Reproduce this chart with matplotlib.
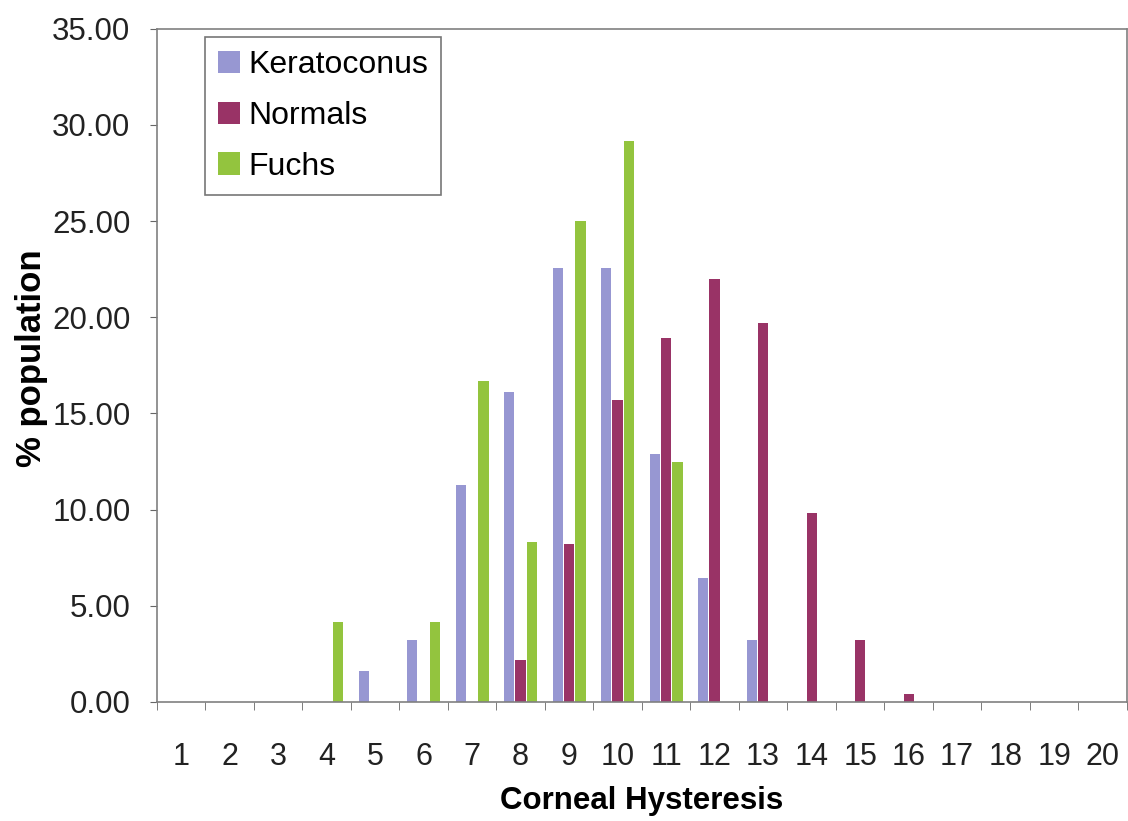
import numpy as np
import matplotlib.pyplot as plt
from matplotlib.ticker import FormatStrFormatter, MultipleLocator

plt.rcParams['font.family'] = ['Liberation Sans', 'DejaVu Sans']

# Corneal hysteresis bins and % population per group
categories = list(range(1, 21))
keratoconus = [0, 0, 0, 0, 1.61, 3.23, 11.29, 16.13, 22.58, 22.58,
               12.90, 6.45, 3.23, 0, 0, 0, 0, 0, 0, 0]
normals = [0, 0, 0, 0, 0, 0, 0, 2.2, 8.2, 15.7,
           18.9, 22.0, 19.7, 9.8, 3.2, 0.4, 0, 0, 0, 0]
fuchs = [0, 0, 0, 4.17, 0, 4.17, 16.67, 8.33, 25.0, 29.17,
         12.5, 0, 0, 0, 0, 0, 0, 0, 0, 0]

series = [('Keratoconus', keratoconus, '#9797d2'),
          ('Normals', normals, '#993366'),
          ('Fuchs', fuchs, '#93c43e')]

fig = plt.figure(figsize=(11.28, 8.21), dpi=100)
ax = fig.add_axes([0.139, 0.145, 0.86, 0.82])

x = np.array(categories)
width = 0.21
offsets = [-0.235, 0, 0.235]
for (name, vals, color), off in zip(series, offsets):
    vals = np.array(vals, dtype=float)
    mask = vals > 0
    ax.bar(x[mask] + off, vals[mask], width, color=color, label=name)

ax.set_xlim(0.5, 20.5)
ax.set_ylim(0, 35)
ax.yaxis.set_major_locator(MultipleLocator(5))
ax.yaxis.set_major_formatter(FormatStrFormatter('%.2f'))
ax.set_xticks(categories)
ax.set_xticks(np.arange(0.5, 21, 1), minor=True)
ax.tick_params(axis='x', which='major', length=0, pad=29, labelsize=22, colors='#222222')
ax.tick_params(axis='x', which='minor', length=6, direction='out', color='#666666')
ax.tick_params(axis='y', length=5, direction='out', color='#666666', pad=14,
               labelsize=22.5, labelcolor='#222222')

for side in ['left', 'bottom', 'top', 'right']:
    ax.spines[side].set_color('#808080')
    ax.spines[side].set_linewidth(1.2)

ax.set_xlabel('Corneal Hysteresis', fontsize=22.5, fontweight='bold', labelpad=10)
ax.set_ylabel('% population', fontsize=25, fontweight='bold')
ax.yaxis.set_label_coords(-0.112, 0.51)

leg = ax.legend(loc='upper left', bbox_to_anchor=(0.0495, 0.987), fontsize=23,
                frameon=True, fancybox=False, handlelength=0.7, handleheight=0.7,
                handletextpad=0.25, labelspacing=0.65, borderpad=0.4,
                borderaxespad=0)
leg.get_frame().set_edgecolor('#555555')
leg.get_frame().set_linewidth(1.2)

fig.savefig('out.png', dpi=100)
